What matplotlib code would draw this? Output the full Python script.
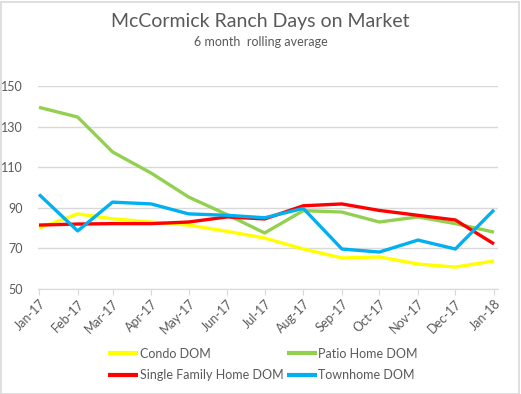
import matplotlib
matplotlib.use("Agg")
import matplotlib.pyplot as plt
from matplotlib.patches import Rectangle
import datetime as dt

months = ["2017-01-01", "2017-02-01", "2017-03-01", "2017-04-01", "2017-05-01", "2017-06-01",
          "2017-07-01", "2017-08-01", "2017-09-01", "2017-10-01", "2017-11-01", "2017-12-01",
          "2018-01-01"]
tick_labels = ["Jan-17", "Feb-17", "Mar-17", "Apr-17", "May-17", "Jun-17", "Jul-17",
               "Aug-17", "Sep-17", "Oct-17", "Nov-17", "Dec-17", "Jan-18"]
condo = [80, 87, 84.6, 83, 81.5, 78.4, 75.1, 69.7, 65.3, 65.8, 62.3, 60.8, 63.8]
patio = [139.5, 134.7, 117.5, 107.1, 95.3, 86.6, 77.6, 88.6, 87.9, 83, 85.5, 82.2, 78]
single_family = [81.5, 82, 82.2, 82.2, 83, 85.5, 84.5, 91, 91.9, 88.7, 86.3, 84, 72.2]
townhome = [96.6, 78.6, 92.8, 91.9, 87, 86.3, 85.1, 89.7, 69.7, 68.2, 74.1, 69.7, 89]
series_names = ["Condo DOM", "Patio Home DOM", "Single Family Home DOM", "Townhome DOM"]
colors = ["#FFFF00", "#92D050", "#FF0000", "#00B0F0"]
yticks = [50, 70, 90, 110, 130, 150]

plt.rcParams['font.family'] = ['Lato', 'DejaVu Sans']
dates = [dt.datetime.strptime(m, "%Y-%m-%d") for m in months]

W, H = 521, 394
fig = plt.figure(figsize=(W / 100, H / 100), dpi=100)
fig.patch.set_facecolor("white")
fig.patches.append(Rectangle((0.5 / W, 0.5 / H), (W - 3) / W, (H - 2) / H, transform=fig.transFigure,
                             fill=False, edgecolor="#D9D9D9", linewidth=1.2))

ax = fig.add_axes([38 / W, (H - 289) / H, 460 / W, 203 / H])
handles = []
for vals, name, c in zip([condo, patio, single_family, townhome], series_names, colors):
    h, = ax.plot(dates, vals, color=c, linewidth=2.4, label=name, solid_capstyle="butt",
                 solid_joinstyle="round")
    handles.append(h)

ax.set_ylim(50, 150)
ax.set_yticks(yticks)
ax.set_xlim(dates[0] - dt.timedelta(days=0.8), dates[-1] + dt.timedelta(days=3.2))
ax.set_xticks(dates)
ax.set_xticklabels(tick_labels, rotation=45, ha="right", rotation_mode="anchor")
ax.grid(axis="y", color="#D9D9D9", linewidth=1)
ax.set_axisbelow(True)
for s in ["top", "left", "right"]:
    ax.spines[s].set_visible(False)
ax.spines["bottom"].set_color("#D9D9D9")
ax.tick_params(axis="y", length=0, pad=11, labelsize=9, labelcolor="#595959")
ax.tick_params(axis="x", length=4, color="#D9D9D9", pad=2, labelsize=9, labelcolor="#595959")

fig.text(0.5, 1 - 22 / H, "McCormick Ranch Days on Market", ha="center", va="center",
         fontsize=14, color="#595959")
fig.text(0.5, 1 - 42 / H, "6 month  rolling average", ha="center", va="center",
         fontsize=9, color="#595959")

order = [0, 2, 1, 3]
leg = fig.legend([handles[i] for i in order], [series_names[i] for i in order],
                 loc="center", bbox_to_anchor=(263 / W, 1 - 364.5 / H), ncol=2, frameon=False,
                 fontsize=9, handlelength=2.4, handletextpad=0.1, columnspacing=0.3,
                 labelspacing=0.75, labelcolor="#595959")
for line in leg.get_lines():
    line.set_linewidth(3)

fig.savefig("out.png", dpi=100)
